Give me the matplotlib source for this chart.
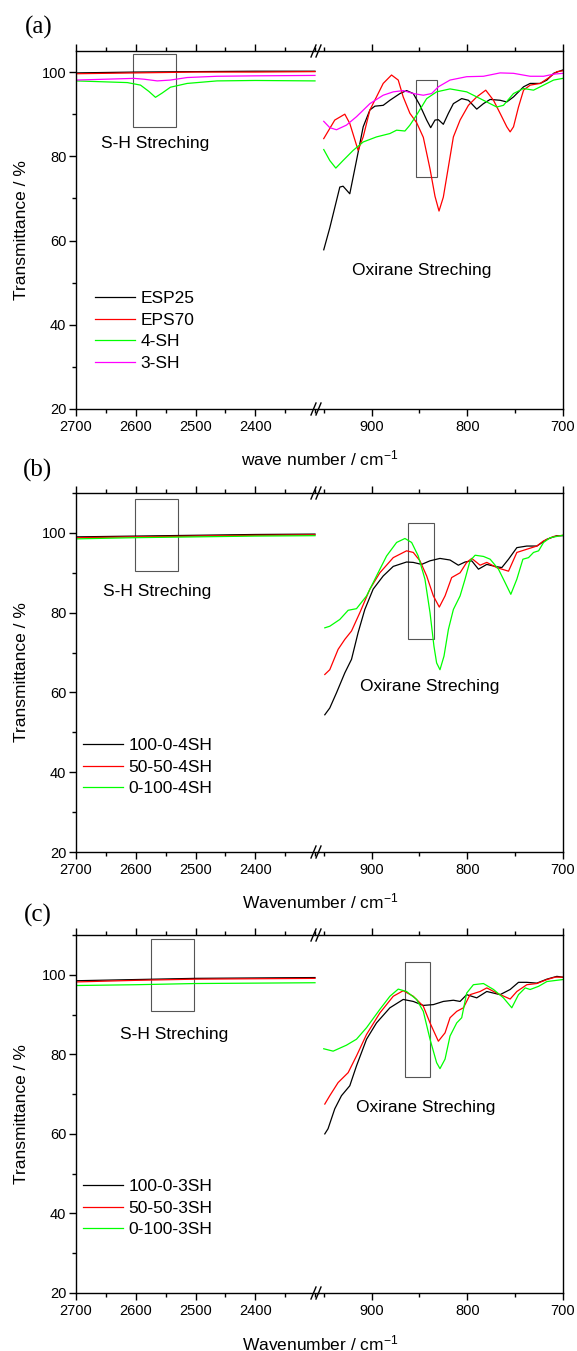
import matplotlib
matplotlib.use("Agg")
import matplotlib.pyplot as plt
from matplotlib.patches import Rectangle
from matplotlib.lines import Line2D
from matplotlib.ticker import MultipleLocator

plt.rcParams['font.family'] = ['Liberation Sans', 'DejaVu Sans']
plt.rcParams['mathtext.fontset'] = 'custom'
plt.rcParams['mathtext.rm'] = 'Liberation Sans'
plt.rcParams['mathtext.it'] = 'Liberation Sans:italic'

W, H = 577, 1351

# ---------------- panel (a) ----------------
a_names = ['ESP25', 'EPS70', '4-SH', '3-SH']
a_colors = ['black', '#ff0000', '#00ff00', '#ff00ff']

a_lo_wn = [2700, 2600, 2500, 2400, 2300]
a_esp25_lo = [99.8, 100.0, 100.1, 100.2, 100.2]
a_eps70_lo = [99.6, 99.8, 100.0, 100.0, 100.1]
a_4sh_lo_wn = [2700, 2614, 2592, 2578, 2567, 2556, 2542, 2514, 2464, 2400, 2300]
a_4sh_lo = [97.9, 97.5, 96.9, 95.4, 94.0, 95.0, 96.4, 97.3, 97.9, 98.0, 97.9]
a_3sh_lo_wn = [2700, 2603, 2586, 2564, 2542, 2514, 2464, 2400, 2300]
a_3sh_lo = [98.1, 98.5, 98.3, 97.9, 98.1, 98.7, 99.0, 99.1, 99.2]

a_esp25_wn = [949.9, 943.6, 933.1, 929.7, 922.7, 915.7, 908.7, 901.7, 896.5, 887.8, 880.8, 870.3,
              863.4, 856.4, 849.4, 842.4, 838.2, 833.7, 830.2, 825.0, 819.7, 814.5, 805.8, 798.8,
              790.1, 783.1, 776.1, 765.7, 758.7, 751.7, 741.2, 734.3, 723.8, 716.8, 709.8, 700.1]
a_esp25 = [57.8, 63.0, 72.7, 72.9, 71.1, 79.0, 87.0, 91.0, 91.9, 92.1, 93.3, 94.9,
           95.6, 94.9, 92.1, 88.6, 86.8, 88.6, 88.7, 87.6, 90.2, 92.5, 93.7, 93.3,
           91.2, 92.5, 93.5, 93.3, 92.9, 94.1, 96.5, 97.3, 97.3, 98.1, 99.7, 100.5]
a_eps70_wn = [949.9, 938.4, 927.9, 922.7, 914.0, 908.7, 901.7, 894.8, 887.8, 879.1, 872.1, 866.9,
              859.9, 852.9, 845.9, 838.9, 833.7, 829.5, 825.0, 819.7, 814.5, 807.5, 798.8, 790.1,
              780.7, 772.6, 765.7, 758.7, 755.2, 751.7, 746.5, 741.2, 734.3, 723.8, 713.3, 706.4, 700.1]
a_eps70 = [84.2, 88.6, 90.0, 87.8, 81.4, 84.6, 91.0, 94.1, 97.3, 99.3, 98.1, 94.1,
           90.2, 88.0, 84.5, 77.0, 70.5, 67.0, 70.3, 77.5, 84.6, 88.6, 92.1, 94.1,
           95.7, 93.3, 90.2, 87.0, 85.8, 87.0, 91.7, 95.7, 96.9, 97.3, 98.9, 100.1, 100.3]
a_4sh_wn = [949.9, 943.6, 937.3, 929.7, 919.2, 908.7, 894.8, 880.8, 873.8, 865.1, 859.9, 852.9,
            842.4, 832.0, 818.0, 800.6, 786.6, 769.2, 762.2, 751.7, 741.2, 730.8, 720.3, 709.8, 700.1]
a_4sh = [81.6, 79.0, 77.2, 79.0, 81.4, 83.4, 84.6, 85.4, 86.2, 86.0, 87.4, 89.8,
         93.7, 95.3, 96.0, 95.3, 93.7, 91.7, 92.1, 94.9, 96.1, 95.7, 96.9, 98.1, 98.5]
a_3sh_wn = [949.9, 943.6, 936.6, 926.2, 915.7, 901.7, 887.8, 877.3, 866.9, 856.4, 845.9, 837.2,
            830.2, 818.0, 800.6, 783.1, 765.7, 751.7, 734.3, 720.3, 709.8, 700.1]
a_3sh = [88.3, 86.8, 86.3, 87.4, 89.4, 92.5, 94.5, 95.3, 95.6, 94.9, 94.5, 94.9,
         96.5, 98.1, 98.9, 99.0, 99.8, 99.7, 99.0, 99.0, 99.5, 99.7]

# ---------------- panel (b) ----------------
b_names = ['100-0-4SH', '50-50-4SH', '0-100-4SH']
bc_colors = ['black', '#ff0000', '#00ff00']

b_lo_wn = [2700, 2600, 2500, 2400, 2300]
b_100_lo = [99.0, 99.2, 99.4, 99.6, 99.7]
b_50_lo = [98.8, 99.0, 99.2, 99.4, 99.5]
b_0_lo = [98.5, 98.8, 99.0, 99.2, 99.3]

b_100_wn = [948.8, 943.6, 936.6, 927.9, 920.9, 914.0, 907.0, 898.3, 887.8, 877.3, 863.4, 856.4,
            847.7, 838.9, 828.5, 818.0, 809.3, 802.3, 795.3, 788.3, 779.6, 770.9, 763.9, 756.9,
            748.2, 737.8, 727.3, 716.8, 706.4, 700.1]
b_100 = [54.4, 56.1, 59.9, 64.9, 68.3, 75.0, 80.8, 85.9, 89.2, 91.6, 92.7, 92.6,
         92.1, 93.0, 93.6, 93.2, 91.9, 92.7, 93.0, 90.9, 92.1, 91.6, 91.3, 93.4,
         96.3, 96.7, 96.7, 98.4, 99.3, 99.3]
b_50_wn = [948.8, 943.6, 934.9, 927.9, 920.9, 912.2, 901.7, 891.3, 877.3, 863.4, 856.4, 849.4,
           842.4, 835.4, 829.2, 823.2, 816.3, 807.5, 800.6, 795.3, 786.6, 779.6, 769.2, 756.9,
           748.2, 737.8, 727.3, 720.3, 709.8, 700.1]
b_50 = [64.5, 65.7, 70.8, 73.3, 75.4, 80.0, 85.9, 90.0, 93.8, 95.5, 95.1, 93.0,
        89.2, 84.2, 81.4, 84.2, 88.8, 90.0, 92.6, 93.6, 91.9, 92.6, 91.3, 90.4,
        95.1, 95.9, 96.7, 98.0, 99.1, 99.4]
b_0_wn = [948.8, 943.6, 933.1, 924.4, 915.7, 905.2, 894.8, 884.3, 873.8, 865.1, 858.1, 851.2,
          844.2, 838.9, 834.8, 832.0, 828.5, 824.3, 819.7, 814.5, 807.5, 802.3, 797.1, 791.8,
          783.1, 776.1, 767.4, 760.4, 754.5, 748.2, 741.9, 736.0, 730.8, 725.5, 720.3, 713.3, 700.1]
b_0 = [76.2, 76.6, 78.3, 80.6, 81.0, 84.2, 89.2, 94.2, 97.6, 98.6, 97.6, 94.2,
       88.4, 80.0, 71.6, 67.4, 65.7, 69.1, 75.8, 80.8, 84.2, 88.4, 93.0, 94.4,
       94.1, 93.4, 90.9, 87.5, 84.6, 88.4, 93.4, 93.8, 95.1, 95.5, 97.6, 98.8, 99.4]

# ---------------- panel (c) ----------------
c_names = ['100-0-3SH', '50-50-3SH', '0-100-3SH']

c_lo_wn = [2700, 2600, 2500, 2400, 2300]
c_100_lo = [98.5, 98.8, 99.1, 99.2, 99.3]
c_50_lo = [98.2, 98.6, 98.9, 99.0, 99.1]
c_0_lo = [97.3, 97.5, 97.8, 97.9, 98.0]

c_100_wn = [948.8, 945.4, 938.4, 931.4, 922.7, 915.7, 905.2, 894.8, 880.8, 866.9, 856.4, 845.9,
            835.4, 825.0, 814.5, 807.5, 800.6, 790.1, 779.6, 765.7, 755.2, 746.5, 737.8, 727.3,
            716.8, 706.4, 700.1]
c_100 = [60.0, 61.3, 66.3, 69.6, 72.1, 77.1, 83.8, 87.9, 91.7, 93.8, 93.3, 92.3,
         92.5, 93.3, 93.6, 93.3, 95.0, 94.2, 95.8, 95.0, 96.3, 98.1, 98.1, 97.9,
         98.9, 99.6, 99.4]
c_50_wn = [948.8, 943.6, 934.9, 924.4, 915.7, 905.2, 891.3, 877.3, 866.9, 856.4, 845.9, 838.9,
           830.2, 823.2, 818.0, 811.0, 804.0, 797.1, 786.6, 779.6, 769.2, 755.2, 748.2, 737.8,
           727.3, 716.8, 708.1, 700.1]
c_50 = [67.5, 69.6, 72.9, 75.4, 79.6, 85.0, 90.4, 94.6, 96.0, 94.6, 92.1, 87.9,
        83.3, 85.4, 89.2, 90.8, 91.7, 95.0, 95.8, 96.7, 95.4, 93.9, 95.8, 97.5,
        97.8, 98.8, 99.4, 99.4]
c_0_wn = [949.9, 940.1, 926.2, 915.7, 905.2, 891.3, 880.8, 872.1, 863.4, 852.9, 845.9, 838.9,
          832.0, 828.5, 823.2, 818.0, 811.0, 805.8, 800.6, 793.6, 783.1, 772.6, 762.2, 753.5,
          746.5, 739.5, 734.3, 725.5, 716.8, 700.1]
c_0 = [81.4, 80.8, 82.3, 83.8, 86.7, 91.3, 94.6, 96.4, 95.8, 93.8, 90.8, 83.8,
       77.9, 76.4, 78.8, 84.6, 87.9, 89.2, 95.4, 97.5, 97.8, 96.3, 94.2, 91.7,
       95.0, 96.7, 96.3, 97.1, 98.3, 98.8]

# annotation boxes: (x0, x1, y0, y1) in data units
a_sh_box = (2604, 2532, 86.9, 104.3)
a_ox_box = (853.7, 831.8, 75.2, 98.1)
b_sh_box = (2601, 2529, 90.5, 108.6)
b_ox_box = (861.7, 835.2, 73.3, 102.4)
c_sh_box = (2574, 2503, 91.0, 108.9)
c_ox_box = (865.2, 838.7, 74.2, 103.1)


def fx(px):
    return px / W


def fy(py):
    return 1 - py / H


def draw_panel(top, bottom, ylim, lo, hi, names, colors, sh_box, ox_box,
               sh_txt, ox_txt, leg_xy, tag, tag_xy, xlabel, xlabel_y):
    y0 = fy(bottom)
    h = (bottom - top) / H
    axl = fig.add_axes([fx(76), y0, fx(318) - fx(76), h])
    axr = fig.add_axes([fx(318), y0, fx(563) - fx(318), h])

    for (wn, t), c, n in zip(lo, colors, names):
        axl.plot(wn, t, color=c, lw=0.9, label=n)
    for (wn, t), c in zip(hi, colors):
        axr.plot(wn, t, color=c, lw=0.9)

    axl.set_xlim(2700, 2295)
    axr.set_xlim(955.9, 700)
    for ax in (axl, axr):
        ax.set_ylim(*ylim)
        for s in ax.spines.values():
            s.set_linewidth(1.0)
        ax.tick_params(which='both', direction='out', top=True, labelsize=10.5,
                       width=1.0, pad=3)
        ax.tick_params(which='major', length=5)
        ax.tick_params(which='minor', length=3)
    axl.spines['right'].set_visible(False)
    axr.spines['left'].set_visible(False)
    axr.tick_params(which='both', left=False, labelleft=False, right=False)
    axl.tick_params(axis='y', pad=2)

    axl.xaxis.set_major_locator(MultipleLocator(100))
    axl.xaxis.set_minor_locator(MultipleLocator(50))
    axr.xaxis.set_major_locator(MultipleLocator(100))
    axr.xaxis.set_minor_locator(MultipleLocator(50))
    axl.set_xticks([2700, 2600, 2500, 2400])
    axl.yaxis.set_major_locator(MultipleLocator(20))
    axl.yaxis.set_minor_locator(MultipleLocator(10))
    axl.set_yticks([20, 40, 60, 80, 100])

    x0, x1, b0, b1 = sh_box
    axl.add_patch(Rectangle((x0, b0), x1 - x0, b1 - b0, fill=False,
                            edgecolor='#555555', lw=0.8))
    x0, x1, b0, b1 = ox_box
    axr.add_patch(Rectangle((x0, b0), x1 - x0, b1 - b0, fill=False,
                            edgecolor='#555555', lw=0.8))
    axl.text(sh_txt[0], sh_txt[1], 'S-H Streching', fontsize=12.5,
             ha='center', va='center')
    axr.text(ox_txt[0], ox_txt[1], 'Oxirane Streching', fontsize=12.5,
             ha='center', va='center')

    axl.legend(loc='upper left', bbox_to_anchor=(fx(leg_xy[0]), fy(leg_xy[1])),
               bbox_transform=fig.transFigure, frameon=False, fontsize=12.5,
               handlelength=2.3, handletextpad=0.3, labelspacing=0.37,
               borderpad=0, borderaxespad=0)

    axl.set_ylabel('Transmittance / %', fontsize=12.5)
    axl.yaxis.set_label_coords((29 - 76) / (318 - 76), 0.5)

    fig.text(fx(tag_xy[0]), fy(tag_xy[1]), tag, fontsize=18,
             family='Liberation Serif', ha='center', va='center')
    fig.text(fx(320), fy(xlabel_y), xlabel, fontsize=12.5, ha='center', va='center')

    # axis break marks
    for py in (top, bottom):
        for px in (311, 316):
            fig.add_artist(Line2D([fx(px), fx(px + 5)], [fy(py + 6), fy(py - 6)],
                                  color='black', lw=1.0, transform=fig.transFigure))


fig = plt.figure(figsize=(W / 100, H / 100), dpi=100)

draw_panel(51, 409, (20, 105),
           [(a_lo_wn, a_esp25_lo), (a_lo_wn, a_eps70_lo), (a_4sh_lo_wn, a_4sh_lo), (a_3sh_lo_wn, a_3sh_lo)],
           [(a_esp25_wn, a_esp25), (a_eps70_wn, a_eps70), (a_4sh_wn, a_4sh), (a_3sh_wn, a_3sh)],
           a_names, a_colors, a_sh_box, a_ox_box, (2567, 83.1), (847.8, 52.9),
           (95, 291), '(a)', (39, 27), r'wave number / cm$^{-1}$', 458)

draw_panel(493, 852, (20, 110),
           [(b_lo_wn, b_100_lo), (b_lo_wn, b_50_lo), (b_lo_wn, b_0_lo)],
           [(b_100_wn, b_100), (b_50_wn, b_50), (b_0_wn, b_0)],
           b_names, bc_colors, b_sh_box, b_ox_box, (2564, 85.4), (838.9, 61.6),
           (83, 738), '(b)', (38, 470), r'Wavenumber / cm$^{-1}$', 901)

draw_panel(935, 1293, (20, 110),
           [(c_lo_wn, c_100_lo), (c_lo_wn, c_50_lo), (c_lo_wn, c_0_lo)],
           [(c_100_wn, c_100), (c_50_wn, c_50), (c_0_wn, c_0)],
           c_names, bc_colors, c_sh_box, c_ox_box, (2536, 85.0), (843.6, 66.7),
           (83, 1179), '(c)', (38, 915), r'Wavenumber / cm$^{-1}$', 1343)

plt.savefig('out.png', dpi=100)
plt.close()
